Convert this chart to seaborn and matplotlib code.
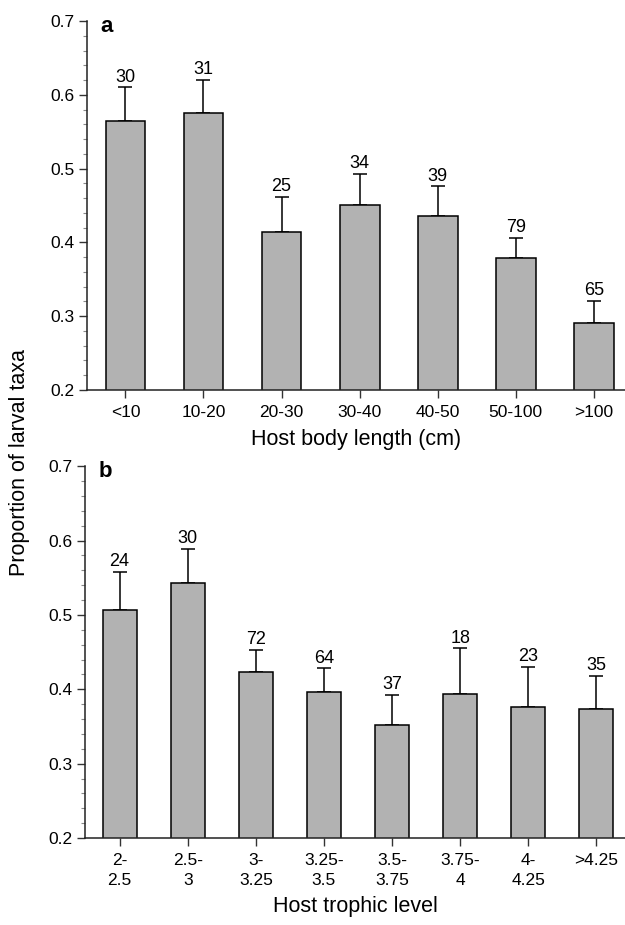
import numpy as np
import pandas as pd
import matplotlib
matplotlib.use("Agg")
import matplotlib.pyplot as plt
import seaborn as sns
from matplotlib.ticker import MultipleLocator

# ---- data ----
len_cats = ["<10", "10-20", "20-30", "30-40", "40-50", "50-100", ">100"]
len_vals = [0.564, 0.576, 0.414, 0.451, 0.436, 0.379, 0.291]
len_upper = [0.610, 0.620, 0.462, 0.493, 0.476, 0.406, 0.321]
len_n = [30, 31, 25, 34, 39, 79, 65]

tl_cats = ["2-\n2.5", "2.5-\n3", "3-\n3.25", "3.25-\n3.5", "3.5-\n3.75", "3.75-\n4", "4-\n4.25", ">4.25"]
tl_vals = [0.506, 0.543, 0.423, 0.396, 0.352, 0.394, 0.376, 0.374]
tl_upper = [0.558, 0.589, 0.453, 0.428, 0.393, 0.455, 0.430, 0.418]
tl_n = [24, 30, 72, 64, 37, 18, 23, 35]

sns.set_theme(style="ticks")
plt.rcParams['font.family'] = ['Liberation Sans', 'DejaVu Sans']
plt.rcParams['text.color'] = 'black'
plt.rcParams['axes.labelcolor'] = 'black'
plt.rcParams['xtick.labelcolor'] = 'black'
plt.rcParams['ytick.labelcolor'] = 'black'

fig = plt.figure(figsize=(6.25, 9.25), dpi=100)
ax_a = fig.add_axes([0.139, 0.5784, 0.861, 0.3989])
ax_b = fig.add_axes([0.136, 0.094, 0.864, 0.402])

bar_color = "#b2b2b2"


def panel(ax, cats, vals, upper, ns, width, xlim, letter, xlabel):
    df = pd.DataFrame({"cat": cats, "val": vals})
    sns.barplot(data=df, x="cat", y="val", color=bar_color, edgecolor="black",
                linewidth=1.1, width=width, saturation=1, ax=ax, zorder=2)
    x = np.arange(len(cats))
    v = np.array(vals)
    up = np.array(upper) - v
    ax.errorbar(x, v, yerr=[np.zeros_like(up), up], fmt="none", ecolor="black",
                elinewidth=1.1, capsize=5, capthick=1.1, zorder=1)
    for xi, u, n in zip(x, upper, ns):
        ax.annotate(str(n), (xi, u), xytext=(0, 4), textcoords="offset points",
                    ha="center", va="baseline", fontsize=13, color="black")
    ax.set_ylim(0.2, 0.7)
    ax.set_xlim(*xlim)
    ax.yaxis.set_major_locator(MultipleLocator(0.1))
    ax.yaxis.set_minor_locator(MultipleLocator(0.02))
    ax.yaxis.set_major_formatter(matplotlib.ticker.FormatStrFormatter("%.1f"))
    ax.tick_params(axis="y", which="major", length=6, width=1, labelsize=12.5, pad=3, color="#333333")
    ax.tick_params(axis="y", which="minor", length=3, width=0.8, color="#888888")
    ax.tick_params(axis="x", which="major", length=6, width=1, labelsize=12.5, pad=5, color="#333333")
    for s in ["top", "right"]:
        ax.spines[s].set_visible(False)
    for s in ["left", "bottom"]:
        ax.spines[s].set_linewidth(1.1)
        ax.spines[s].set_color("#222222")
    ax.set_ylabel("")
    ax.set_xlabel(xlabel, fontsize=15.5, labelpad=6)
    ax.text(0.025, 0.985, letter, transform=ax.transAxes, fontsize=16,
            fontweight="bold", va="center", ha="left")


panel(ax_a, len_cats, len_vals, len_upper, len_n, 0.51, (-0.494, 6.40), "a",
      "Host body length (cm)")
panel(ax_b, tl_cats, tl_vals, tl_upper, tl_n, 0.50, (-0.508, 7.42), "b",
      "Host trophic level")
for lbl in ax_b.get_xticklabels():
    lbl.set_verticalalignment("top")
    lbl.set_linespacing(1.4)

fig.text(0.032, 0.5, "Proportion of larval taxa", rotation=90, fontsize=15.5,
         ha="center", va="center")

fig.savefig("out.png", dpi=100)
